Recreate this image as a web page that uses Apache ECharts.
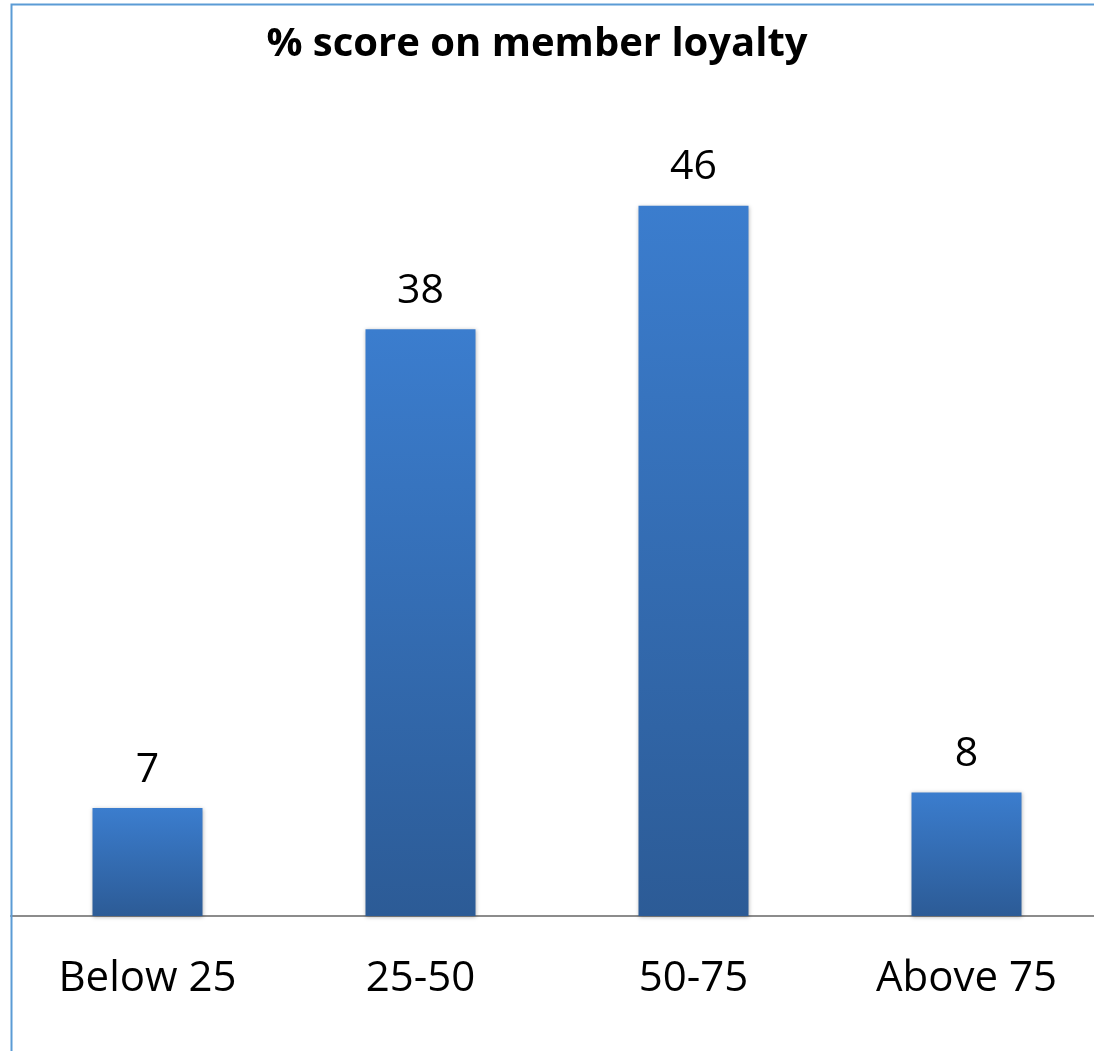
<!DOCTYPE html>
<html>
<head>
<meta charset="utf-8">
<style>
  html, body { margin: 0; padding: 0; background: #ffffff; overflow: hidden; }
  /* the chart frame runs a little past the right edge of the window */
  #chart { width: 1110px; height: 1051px; }
</style>
<script src="https://cdn.jsdelivr.net/npm/echarts@6/dist/echarts.min.js"></script>
</head>
<body>
<div id="chart"></div>
<script>
// Score bands and the share of members falling in each
const categories = ['Below 25', '25-50', '50-75', 'Above 75'];
const scores = [7, 38, 46, 8];
const titleText = '% score on member loyalty';

const chart = echarts.init(document.getElementById('chart'), null, { renderer: 'canvas' });

const barGradient = new echarts.graphic.LinearGradient(0, 0, 0, 1, [
  { offset: 0, color: '#3B7DCE' },
  { offset: 1, color: '#2C5B96' }
]);

chart.setOption({
  animation: false,
  backgroundColor: '#ffffff',
  title: {
    text: titleText,
    left: 532,
    top: 15,
    textAlign: 'center',
    textStyle: {
      fontFamily: 'Open Sans',
      fontWeight: 'bold',
      fontSize: 40,
      color: '#000000',
      lineHeight: 50
    }
  },
  graphic: [{
    type: 'rect',
    silent: true,
    z: 100,
    shape: { x: 11.5, y: 4.5, width: 1300, height: 1200 },
    style: { fill: 'none', stroke: '#5B9BD5', lineWidth: 2 }
  }],
  grid: {
    left: 11,
    right: 7,
    top: 144,
    bottom: 135,
    containLabel: false
  },
  xAxis: {
    type: 'category',
    data: categories,
    axisLine: { show: true, lineStyle: { color: '#8C8C8C', width: 2 } },
    axisTick: { show: false },
    axisLabel: {
      margin: 41,
      fontFamily: 'Open Sans',
      fontSize: 42,
      lineHeight: 44,
      color: '#000000'
    },
    splitLine: { show: false }
  },
  yAxis: {
    type: 'value',
    min: 0,
    max: 50,
    show: false,
    splitLine: { show: false }
  },
  series: [{
    type: 'bar',
    data: scores,
    barWidth: 110,
    itemStyle: {
      color: barGradient,
      shadowColor: 'rgba(0,0,0,0.3)',
      shadowBlur: 4,
      shadowOffsetY: 1
    },
    label: {
      show: true,
      position: 'top',
      distance: 16,
      fontFamily: 'Open Sans',
      fontSize: 41,
      lineHeight: 44,
      color: '#000000'
    }
  }]
});
</script>
</body>
</html>
